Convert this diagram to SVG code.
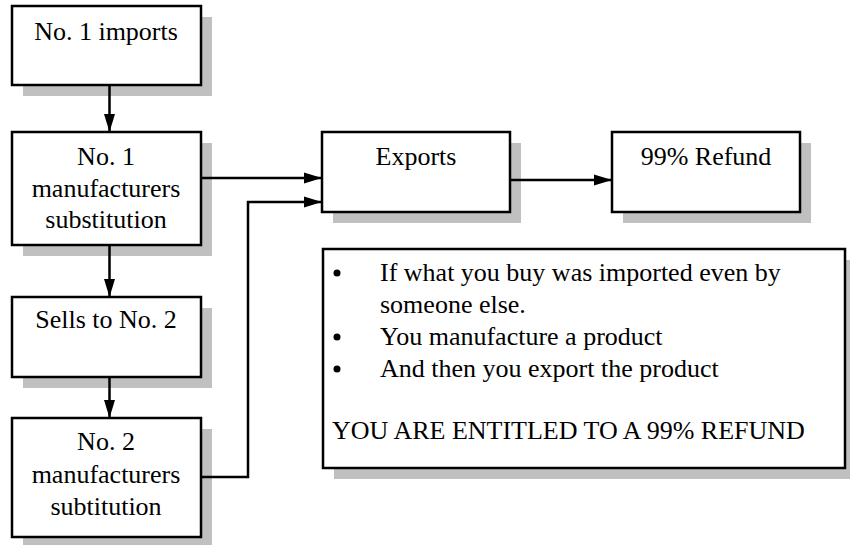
<svg xmlns="http://www.w3.org/2000/svg" width="850" height="545" viewBox="0 0 850 545">
<style>
  .nodebox { fill: #ffffff; stroke: #000000; stroke-width: 2.5; }
  .nodeshadow { fill: #c0c0c0; stroke: none; }
  .nodelabel { font-family: "Liberation Serif", "Times New Roman", serif; font-size: 26px; fill: #000000; }
  .centered { text-anchor: middle; }
  .bullet { fill: #000000; }
  .edge { fill: none; stroke: #000000; stroke-width: 2.5; marker-end: url(#arrow); }
</style>
<defs>
  <marker id="arrow" markerUnits="userSpaceOnUse" markerWidth="18" markerHeight="12" refX="18" refY="6" orient="auto">
    <path d="M0,0.5 L18,6 L0,11.5 z" fill="#000000"/>
  </marker>
</defs>
<rect width="850" height="545" fill="#ffffff"/>

<g id="node-imports">
  <rect class="nodeshadow" x="23" y="17" width="189" height="79"/>
  <rect class="nodebox" x="12" y="6" width="189" height="79"/>
  <text class="nodelabel centered" x="106" y="40">No. 1 imports</text>
</g>

<g id="node-manuf1">
  <rect class="nodeshadow" x="23" y="143" width="189" height="113"/>
  <rect class="nodebox" x="12" y="132" width="189" height="113"/>
  <text class="nodelabel centered" x="106" y="165">No. 1</text>
  <text class="nodelabel centered" x="106" y="197">manufacturers</text>
  <text class="nodelabel centered" x="106" y="228">substitution</text>
</g>

<g id="node-sells">
  <rect class="nodeshadow" x="23" y="308" width="189" height="80"/>
  <rect class="nodebox" x="12" y="297" width="189" height="80"/>
  <text class="nodelabel centered" x="106" y="328">Sells to No. 2</text>
</g>

<g id="node-manuf2">
  <rect class="nodeshadow" x="23" y="429" width="189" height="119"/>
  <rect class="nodebox" x="12" y="418" width="189" height="119"/>
  <text class="nodelabel centered" x="106" y="450">No. 2</text>
  <text class="nodelabel centered" x="106" y="483">manufacturers</text>
  <text class="nodelabel centered" x="106" y="515">subtitution</text>
</g>

<g id="node-exports">
  <rect class="nodeshadow" x="333" y="143" width="188" height="80"/>
  <rect class="nodebox" x="322" y="132" width="188" height="80"/>
  <text class="nodelabel centered" x="416" y="165">Exports</text>
</g>

<g id="node-refund">
  <rect class="nodeshadow" x="623" y="143" width="188" height="80"/>
  <rect class="nodebox" x="612" y="132" width="188" height="80"/>
  <text class="nodelabel centered" x="706" y="165">99% Refund</text>
</g>

<g id="node-note">
  <rect class="nodeshadow" x="334" y="260" width="522" height="219"/>
  <rect class="nodebox" x="323" y="249" width="522" height="219"/>
  <circle class="bullet" cx="337" cy="273" r="3.5"/>
  <text class="nodelabel" x="380" y="281">If what you buy was imported even by</text>
  <text class="nodelabel" x="380" y="313">someone else.</text>
  <circle class="bullet" cx="337" cy="337" r="3.5"/>
  <text class="nodelabel" x="380" y="345">You manufacture a product</text>
  <circle class="bullet" cx="337" cy="369" r="3.5"/>
  <text class="nodelabel" x="380" y="377">And then you export the product</text>
  <text class="nodelabel" x="332" y="439">YOU ARE ENTITLED TO A 99% REFUND</text>
</g>

<g id="connectors">
  <path class="edge" d="M109.5,85 L109.5,132"/>
  <path class="edge" d="M109.5,245 L109.5,297"/>
  <path class="edge" d="M109.5,377 L109.5,418"/>
  <path class="edge" d="M200,178 L322,178"/>
  <path class="edge" d="M201,477 L248,477 L248,202 L322,202"/>
  <path class="edge" d="M510,180 L612,180"/>
</g>
</svg>
